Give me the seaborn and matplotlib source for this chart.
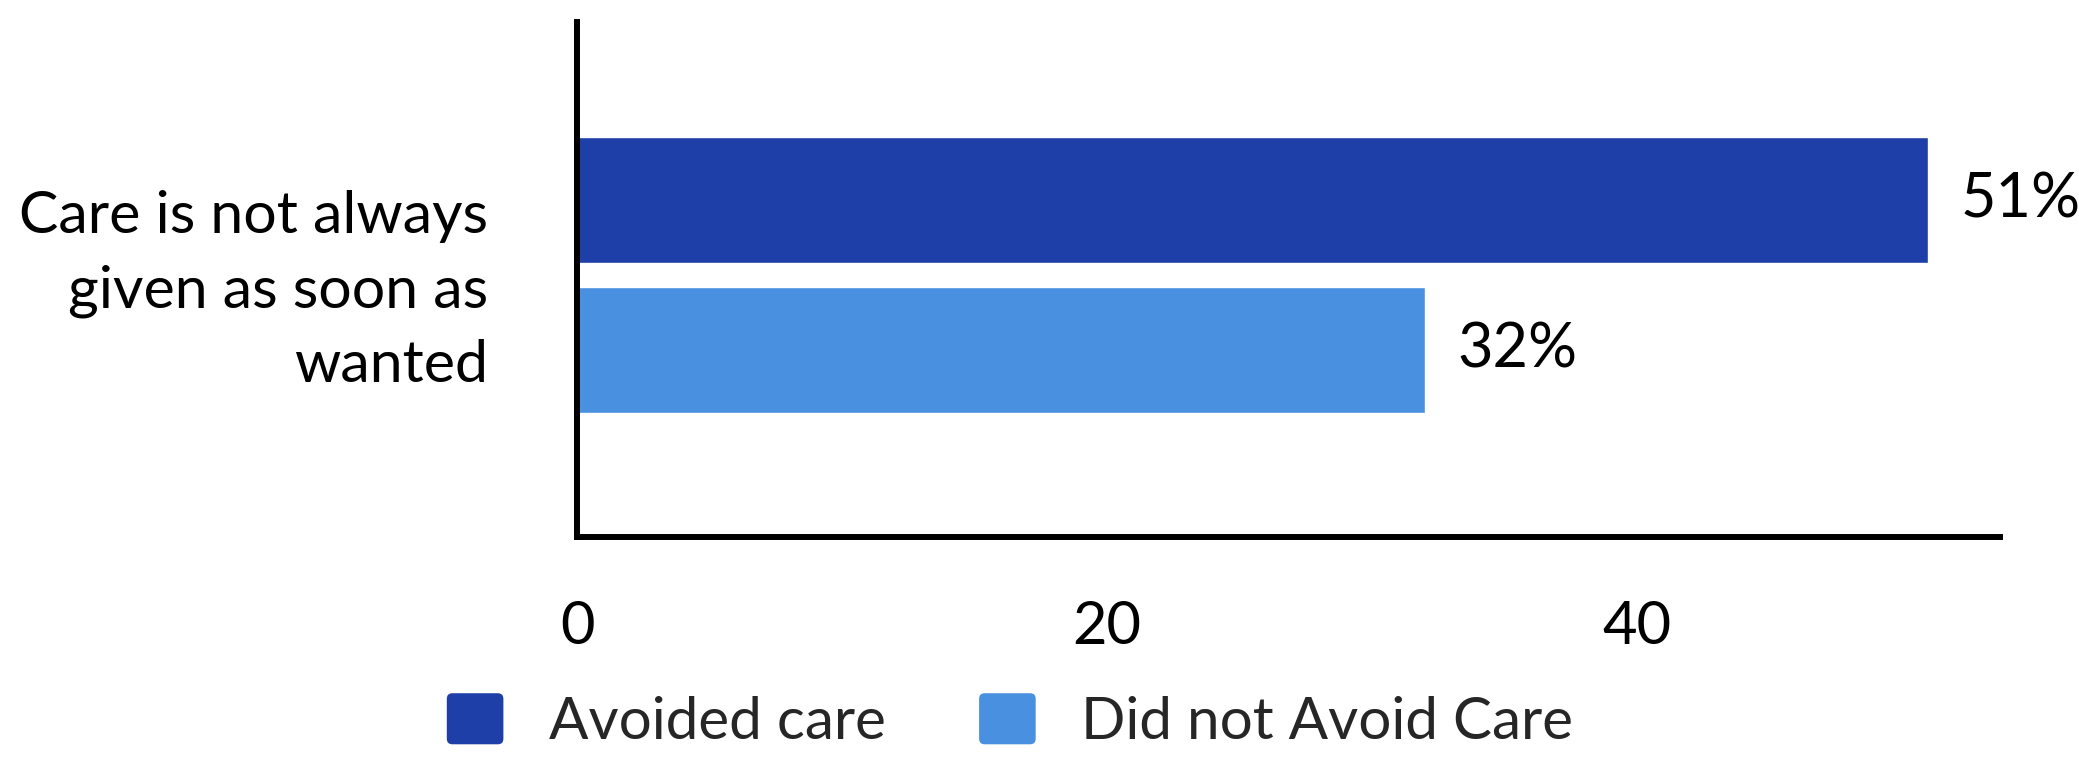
import matplotlib
matplotlib.use("Agg")
import matplotlib.pyplot as plt
from matplotlib.patches import FancyBboxPatch, Patch
from matplotlib.legend_handler import HandlerPatch
import pandas as pd
import seaborn as sns

# Survey result: share of respondents agreeing with the statement
questions = ["Care is not always\ngiven as soon as\nwanted"]
groups = ["Avoided care", "Did not Avoid Care"]
values = [51, 32]
colors = ["#1E3FA8", "#4A90E0"]
x_ticks = [0, 20, 40]

df = pd.DataFrame({
    "question": questions * len(groups),
    "group": groups,
    "value": values,
})

sns.set_theme(style="white")
plt.rcParams["font.family"] = ["Lato", "DejaVu Sans"]

fig = plt.figure(figsize=(20.79, 7.58), dpi=100)
ax = fig.add_axes([577 / 2079, 1 - 537 / 758, (2000 - 577) / 2079, (537 - 22) / 758])

sns.barplot(
    data=df, x="value", y="question", hue="group", orient="h",
    palette=colors, saturation=1, width=0.583, gap=0.158,
    legend=False, ax=ax,
)

ax.set_xlim(0, 53.7)
ax.set_ylim(0.5087, -0.4913)
ax.set_xticks(x_ticks)
ax.set_xticklabels([str(t) for t in x_ticks])
ax.set_yticks([0])
ax.set_yticklabels(questions, linespacing=1.5, ha="right")
ax.set_xlabel("")
ax.set_ylabel("")

for side in ["top", "right"]:
    ax.spines[side].set_visible(False)
for side in ["left", "bottom"]:
    ax.spines[side].set_color("black")
    ax.spines[side].set_linewidth(4.3)

ax.tick_params(axis="x", length=0, pad=45, labelsize=43, colors="black")
ax.tick_params(axis="y", length=0, pad=64, labelsize=42.5, colors="black")

for container in ax.containers:
    ax.bar_label(container, fmt="%d%%", padding=23, fontsize=44, color="black")


def rounded_square(legend, orig_handle, xdescent, ydescent, width, height, fontsize):
    return FancyBboxPatch((-xdescent, -ydescent), width, height,
                          boxstyle="round,pad=0,rounding_size=4")


handles = [Patch(facecolor=c, edgecolor="none", label=g) for g, c in zip(groups, colors)]
fig.legend(
    handles=handles, loc="center", bbox_to_anchor=(1010 / 2079, 1 - 721 / 758),
    ncol=2, frameon=False, fontsize=42, handlelength=0.97, handleheight=0.97,
    handletextpad=0.78, columnspacing=1.6, borderpad=0,
    handler_map={Patch: HandlerPatch(patch_func=rounded_square)},
)

fig.savefig("out.png", dpi=100)
